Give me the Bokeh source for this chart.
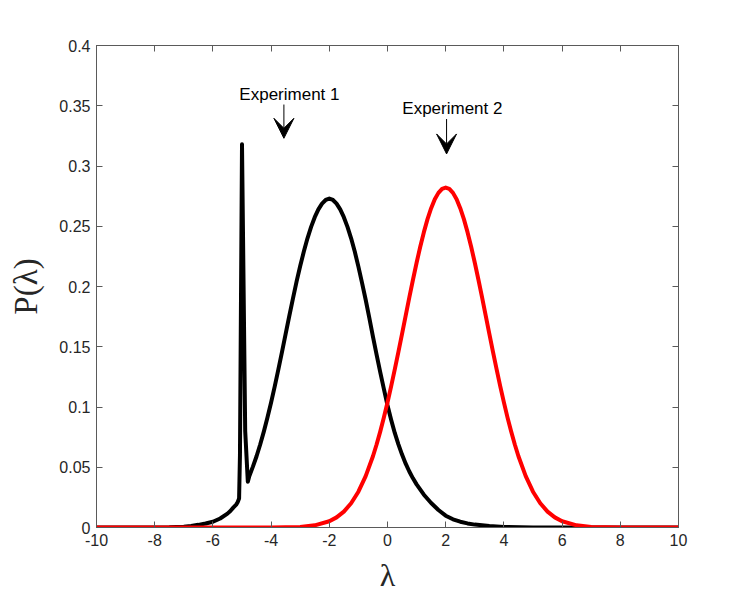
from bokeh.plotting import figure
from bokeh.models import (LinearAxis, FixedTicker, Range1d, Arrow, VeeHead, Label,
                          CustomLabelingPolicy)
from bokeh.embed import file_html
from bokeh.resources import INLINE

# Distribution of lambda for the first experiment (black curve)
exp1_lambda = [-10, -8, -7.5, -7.0, -6.75, -6.5, -6.25, -6.0, -5.75, -5.5, -5.4, -5.3,
               -5.2, -5.15, -5.10, -5.07, -5.0, -4.89, -4.80, -4.75, -4.625, -4.5,
               -4.375, -4.25, -4.125, -4.0, -3.875, -3.75, -3.625, -3.5, -3.375,
               -3.25, -3.125, -3.0, -2.875, -2.75, -2.625, -2.5, -2.375, -2.25,
               -2.125, -2.0, -1.875, -1.75, -1.625, -1.5, -1.375, -1.25, -1.125,
               -1.0, -0.875, -0.75, -0.625, -0.5, -0.375, -0.25, -0.125, 0.0, 0.125,
               0.25, 0.375, 0.5, 0.625, 0.75, 0.875, 1.0, 1.25, 1.5, 1.75, 2.0, 2.25,
               2.5, 2.75, 3.0, 3.5, 4.0, 5.0, 6.0, 10]
exp1_p = [0.0, 0.0, 0.0002, 0.0007, 0.0013, 0.0022, 0.0033, 0.0048, 0.0075, 0.0115,
          0.0137, 0.0165, 0.019, 0.021, 0.024, 0.06, 0.318, 0.08, 0.038, 0.0426,
          0.0505, 0.0591, 0.0689, 0.0796, 0.0912, 0.1038, 0.1171, 0.1312, 0.1458,
          0.1607, 0.1755, 0.1900, 0.2040, 0.2170, 0.2290, 0.2400, 0.2495, 0.2575,
          0.2640, 0.2688, 0.2718, 0.2730, 0.2718, 0.2688, 0.2640, 0.2575, 0.2495,
          0.2400, 0.2290, 0.2165, 0.2030, 0.1890, 0.1740, 0.1585, 0.1435, 0.1290,
          0.1150, 0.1015, 0.0895, 0.0785, 0.0690, 0.0605, 0.0530, 0.0465, 0.0408,
          0.0358, 0.0272, 0.0203, 0.0145, 0.0098, 0.0068, 0.0048, 0.0034, 0.0024,
          0.0012, 0.0005, 0.0001, 0.0, 0.0]

# Distribution of lambda for the second experiment (red curve)
exp2_lambda = [-10, -4.0, -3.0, -2.5, -2.0, -1.75, -1.5, -1.25, -1.0, -0.75, -0.5,
               -0.375, -0.25, -0.125, 0.0, 0.125, 0.25, 0.375, 0.5, 0.625, 0.75,
               0.875, 1.0, 1.125, 1.25, 1.375, 1.5, 1.625, 1.75, 1.875, 2.0, 2.125,
               2.25, 2.375, 2.5, 2.625, 2.75, 2.875, 3.0, 3.125, 3.25, 3.375, 3.5,
               3.625, 3.75, 3.875, 4.0, 4.125, 4.25, 4.375, 4.5, 4.75, 5.0, 5.25,
               5.5, 5.75, 6.0, 6.5, 7.0, 7.5, 8.0, 10]
exp2_p = [0.0, 0.0, 0.0005, 0.0018, 0.0052, 0.0084, 0.0132, 0.0201, 0.0297, 0.0426,
          0.0591, 0.0689, 0.0796, 0.0912, 0.1038, 0.1171, 0.1312, 0.1458, 0.1607,
          0.1758, 0.1909, 0.2056, 0.2197, 0.2330, 0.2451, 0.2559, 0.2650, 0.2724,
          0.2777, 0.2810, 0.2821, 0.2810, 0.2777, 0.2724, 0.2650, 0.2559, 0.2451,
          0.2330, 0.2197, 0.2056, 0.1909, 0.1758, 0.1607, 0.1458, 0.1312, 0.1171,
          0.1038, 0.0912, 0.0796, 0.0689, 0.0591, 0.0426, 0.0297, 0.0201, 0.0132,
          0.0084, 0.0052, 0.0018, 0.0005, 0.00015, 0.0, 0.0]

x_ticks = [-10, -8, -6, -4, -2, 0, 2, 4, 6, 8, 10]
x_tick_labels = ["-10", "-8", "-6", "-4", "-2", "0", "2", "4", "6", "8", "10"]
y_ticks = [0, 0.05, 0.1, 0.15, 0.2, 0.25, 0.3, 0.35, 0.4]
y_tick_labels = ["0", "0.05", "0.1", "0.15", "0.2", "0.25", "0.3", "0.35", "0.4"]

# Annotation arrows: (label, text x, text y, arrow x, arrow top, arrow tip)
annotations = [("Experiment 1", -3.37, 0.359, -3.56, 0.351, 0.323),
               ("Experiment 2", 2.23, 0.3476, 2.03, 0.339, 0.310)]

AXIS_COLOR = "#5a5a5a"
TEXT_COLOR = "#262626"
SANS = "Liberation Sans"
SERIF = "Liberation Serif"

p = figure(width=750, height=600, output_backend="svg", toolbar_location=None,
           x_range=Range1d(-10, 10), y_range=Range1d(0, 0.4),
           min_border_left=96, min_border_right=72, min_border_top=45,
           min_border_bottom=73, x_axis_location=None, y_axis_location=None)
p.background_fill_color = "white"
p.border_fill_color = "white"
p.xgrid.visible = False
p.ygrid.visible = False
p.outline_line_color = AXIS_COLOR
p.outline_line_width = 1

# labels on the mirrored (top / right) axes are suppressed
no_labels = CustomLabelingPolicy(
    code="for (const i of Array.from(indices)) { indices.unset(i) } return indices")

def make_axis(ticks, labels, show_labels):
    ax = LinearAxis(ticker=FixedTicker(ticks=ticks))
    ax.major_label_overrides = {t: l for t, l in zip(ticks, labels)}
    ax.major_tick_in = 6
    ax.major_tick_out = 0
    ax.minor_tick_in = 0
    ax.minor_tick_out = 0
    ax.major_tick_line_color = AXIS_COLOR
    ax.axis_line_color = AXIS_COLOR
    ax.major_label_text_font = SANS
    ax.major_label_text_font_size = "16px"
    ax.major_label_text_color = TEXT_COLOR
    ax.major_label_standoff = 6
    if not show_labels:
        ax.major_label_policy = no_labels
    return ax

bottom = make_axis(x_ticks, x_tick_labels, True)
bottom.axis_label = "λ"
bottom.axis_label_text_font = SERIF
bottom.axis_label_text_font_style = "normal"
bottom.axis_label_text_font_size = "32px"
bottom.axis_label_text_color = TEXT_COLOR
bottom.axis_label_standoff = 8
p.add_layout(bottom, "below")

left = make_axis(y_ticks, y_tick_labels, True)
left.axis_label = "P(λ)"
left.axis_label_text_font = SERIF
left.axis_label_text_font_style = "normal"
left.axis_label_text_font_size = "33px"
left.axis_label_text_color = TEXT_COLOR
left.axis_label_standoff = 12
p.add_layout(left, "left")

p.add_layout(make_axis(x_ticks, x_tick_labels, False), "above")
p.add_layout(make_axis(y_ticks, y_tick_labels, False), "right")

# black first, red drawn over it
p.line(exp1_lambda, exp1_p, line_color="black", line_width=4, line_join="round",
       line_cap="round")
p.line(exp2_lambda, exp2_p, line_color="#ff0000", line_width=4, line_join="round",
       line_cap="round")

for text, tx, ty, ax_x, a_top, a_tip in annotations:
    p.add_layout(Label(x=tx, y=ty, text=text, text_align="center",
                       text_baseline="alphabetic", text_font=SANS,
                       text_font_size="17px", text_color="black"))
    p.add_layout(Arrow(x_start=ax_x, y_start=a_top, x_end=ax_x, y_end=a_tip,
                       line_color="black", line_width=1,
                       end=VeeHead(size=20, fill_color="black", line_color="black")))

open("out.html", "w").write(file_html(p, INLINE))
